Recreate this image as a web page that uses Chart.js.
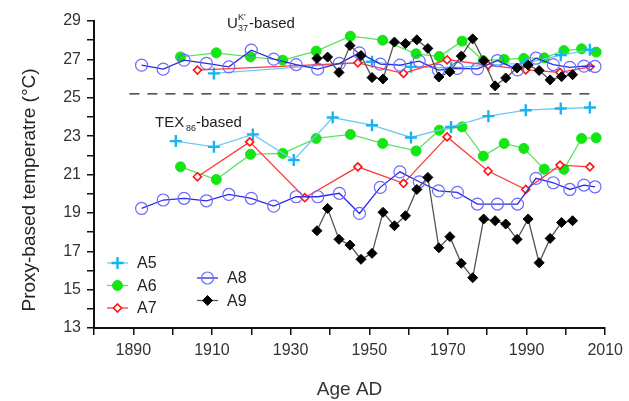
<!DOCTYPE html>
<html>
<head>
<meta charset="utf-8">
<script src="https://cdn.jsdelivr.net/npm/chart.js@4.4.1/dist/chart.umd.min.js"></script>
<style>
  html, body { margin: 0; padding: 0; background: #fff; }
  #wrap { width: 629px; height: 401px; position: relative; }
</style>
</head>
<body>
<div id="wrap"><canvas id="proxyChart" width="629" height="401"></canvas></div>
<script>
// --- data ---
const a5Years = [1900.8, 1910.5, 1920.4, 1930.8, 1940.7, 1950.7, 1960.6, 1970.8, 1980.3, 1989.8, 1998.7, 2006.1];
const a5Tex   = [22.74, 22.44, 23.09, 21.75, 23.97, 23.57, 22.93, 23.48, 24.04, 24.35, 24.44, 24.49];
const a5Uk    = [null, 26.27, null, null, null, 26.88, 26.61, 26.55, 26.70, 26.80, 27.22, 27.50];

const a6Years = [1902.0, 1911.1, 1919.8, 1928.0, 1936.5, 1945.2, 1953.4, 1961.9, 1967.8, 1973.6, 1979.0, 1984.3, 1989.3, 1994.5, 1999.5, 2004.0, 2007.7];
const a6Tex   = [21.40, 20.74, 22.05, 22.10, 22.88, 23.09, 22.62, 22.23, 23.31, 23.48, 21.96, 22.62, 22.36, 21.28, 21.27, 22.88, 22.91];
const a6Uk    = [27.13, 27.34, 27.13, 26.96, 27.43, 28.21, 28.00, 27.29, 27.15, 27.95, 26.93, 27.00, 27.05, 27.08, 27.46, 27.55, 27.38];

const a7Years = [1906.3, 1919.6, 1933.6, 1947.1, 1958.7, 1969.8, 1980.2, 1989.8, 1998.5, 2006.1];
const a7Tex   = [20.88, 22.70, 19.79, 21.40, 20.54, 22.96, 21.18, 20.22, 21.49, 21.40];
const a7Uk    = [26.44, null, null, 26.82, 26.27, 26.98, 26.70, 26.45, 26.32, 26.61];

const a8Years = [1892.1, 1897.6, 1902.9, 1908.6, 1914.3, 1920.0, 1925.7, 1931.4, 1936.9, 1942.4, 1947.5, 1952.8, 1957.8, 1962.7, 1967.6, 1972.4, 1977.5, 1982.6, 1987.7, 1992.4, 1996.8, 2001.0, 2004.6, 2007.4];
const a8Tex   = [19.23, 19.67, 19.76, 19.63, 19.96, 19.76, 19.35, 19.84, 19.84, 20.02, 18.97, 20.33, 21.14, 20.62, 20.15, 20.07, 19.46, 19.46, 19.46, 20.80, 20.57, 20.22, 20.45, 20.36];
const a8Uk    = [26.70, 26.49, 26.96, 26.79, 26.61, 27.48, 27.01, 26.73, 26.49, 26.79, 27.34, 26.75, 26.70, 26.91, 26.44, 26.53, 26.51, 26.94, 26.45, 27.06, 26.73, 26.58, 26.65, 26.63];

const a9Years = [1936.7, 1939.4, 1942.3, 1945.1, 1947.9, 1950.7, 1953.5, 1956.4, 1959.2, 1962.1, 1964.9, 1967.7, 1970.5, 1973.4, 1976.3, 1979.1, 1982.0, 1984.7, 1987.6, 1990.4, 1993.2, 1996.0, 1998.9, 2001.7];
const a9Tex   = [18.07, 19.23, 17.62, 17.32, 16.58, 16.89, 19.03, 18.33, 18.85, 20.22, 20.85, 17.18, 17.76, 16.37, 15.62, 18.68, 18.59, 18.42, 17.62, 18.68, 16.40, 17.67, 18.50, 18.59];
const a9Uk    = [27.05, 27.12, 26.32, 27.72, 27.20, 26.05, 25.98, 27.90, 27.82, 28.02, 27.57, 26.08, 26.35, 27.17, 28.07, 26.93, 25.62, 26.03, 26.55, 26.70, 26.42, 25.93, 26.10, 26.20];

// dashed separator between the two proxies
const dividerYears = [1889, 2008];
const dividerTemp  = [25.2, 25.2];

const xTicks = [1880, 2010];
const yTicks = [13, 29];

// --- styles per site ---
const styles = {
    A5: { line: "#6ccbf3", mark: "#1ab2f0", fill: "#1ab2f0", shape: "cross", r: 6, bw: 2.4 },
    A6: { line: "#5ee05e", mark: "#14e614", fill: "#14e614", shape: "circle", r: 5, bw: 1 },
    A7: { line: "#ff3a3a", mark: "#ff1414", fill: "#ffffff", shape: "rectRot", r: 4, bw: 1.6 },
    A8: { line: "#2a2ae0", mark: "#6a6aff", fill: "rgba(0,0,0,0)", shape: "circle", r: 6, bw: 1.2 },
    A9: { line: "#555555", mark: "#000000", fill: "#000000", shape: "rectRot", r: 5, bw: 1 },
};

function pts(xs, ys) {
    return xs.map((x, i) => ({ x: x, y: ys[i] })).filter((p) => p.y !== null);
}

function series(name, xs, ys, order) {
    const s = styles[name];
    return {
        label: name,
        data: pts(xs, ys),
        borderColor: s.line,
        borderWidth: 1.3,
        pointStyle: s.shape,
        pointRadius: s.r,
        pointBorderColor: s.mark,
        pointBackgroundColor: s.fill,
        pointBorderWidth: s.bw,
        tension: 0,
        order: order,
    };
}

// draws one marker by hand (used for the legend)
function marker(ctx, shape, x, y, r, stroke, fill, bw) {
    ctx.save();
    ctx.lineWidth = bw;
    ctx.strokeStyle = stroke;
    ctx.fillStyle = fill;
    ctx.beginPath();
    if (shape === "circle") {
        ctx.arc(x, y, r, 0, Math.PI * 2);
        ctx.fill();
        ctx.stroke();
    } else if (shape === "rectRot") {
        ctx.moveTo(x, y - r);
        ctx.lineTo(x + r, y);
        ctx.lineTo(x, y + r);
        ctx.lineTo(x - r, y);
        ctx.closePath();
        ctx.fill();
        ctx.stroke();
    } else {
        ctx.moveTo(x - r, y);
        ctx.lineTo(x + r, y);
        ctx.moveTo(x, y - r);
        ctx.lineTo(x, y + r);
        ctx.stroke();
    }
    ctx.restore();
}

const extras = {
    id: "extras",
    afterDraw(chart) {
        const ctx = chart.ctx;
        ctx.save();
        ctx.fillStyle = "#222";
        ctx.textBaseline = "alphabetic";

        // U37K'-based
        ctx.font = "15px 'Liberation Sans', Arial, sans-serif";
        ctx.fillText("U", 227, 28);
        ctx.font = "9px 'Liberation Sans', Arial, sans-serif";
        ctx.fillText("K'", 238, 20);
        ctx.fillText("37", 238, 31);
        ctx.font = "15px 'Liberation Sans', Arial, sans-serif";
        ctx.fillText("-based", 249, 28);

        // TEX86-based
        ctx.fillText("TEX", 155, 127);
        ctx.font = "9px 'Liberation Sans', Arial, sans-serif";
        ctx.fillText("86", 186, 131);
        ctx.font = "15px 'Liberation Sans', Arial, sans-serif";
        ctx.fillText("-based", 196, 127);

        // y title
        ctx.save();
        ctx.translate(30, 190);
        ctx.rotate(-Math.PI / 2);
        ctx.textAlign = "center";
        ctx.textBaseline = "middle";
        ctx.font = "19px 'Liberation Sans', Arial, sans-serif";
        ctx.fillText("Proxy-based temperatre (°C)", 0, 0);
        ctx.restore();

        // legend
        const items = [
            ["A5", 107, 263], ["A6", 107, 285.5], ["A7", 107, 308],
            ["A8", 197, 278], ["A9", 197, 300.5],
        ];
        ctx.font = "16px 'Liberation Sans', Arial, sans-serif";
        ctx.textBaseline = "middle";
        items.forEach(([name, x, y]) => {
            const s = styles[name];
            ctx.strokeStyle = s.line;
            ctx.lineWidth = 1.3;
            ctx.beginPath();
            ctx.moveTo(x, y);
            ctx.lineTo(x + 21, y);
            ctx.stroke();
            marker(ctx, s.shape, x + 10.5, y, s.r, s.mark, s.fill, s.bw);
            ctx.fillStyle = "#222";
            ctx.fillText(name, x + 30, y + 1);
        });
        ctx.restore();
    },
};

const ctx = document.getElementById("proxyChart");

new Chart(ctx, {
    type: "line",
    data: {
        datasets: [
            {
                label: "divider",
                data: pts(dividerYears, dividerTemp),
                borderColor: "#222",
                borderWidth: 1.4,
                borderDash: [10, 8],
                pointRadius: 0,
                order: 10,
            },
            series("A5", a5Years, a5Uk, 5),
            series("A6", a6Years, a6Uk, 6),
            series("A7", a7Years, a7Uk, 4),
            series("A8", a8Years, a8Uk, 3),
            series("A9", a9Years, a9Uk, 1),
            series("A5", a5Years, a5Tex, 5),
            series("A6", a6Years, a6Tex, 6),
            series("A7", a7Years, a7Tex, 4),
            series("A8", a8Years, a8Tex, 3),
            series("A9", a9Years, a9Tex, 1),
        ],
    },
    options: {
        responsive: false,
        animation: false,
        layout: { padding: { left: 0, top: 21, right: 23, bottom: 0 } },
        plugins: {
            legend: { display: false },
            tooltip: { enabled: false },
        },
        scales: {
            x: {
                type: "linear",
                min: xTicks[0],
                max: xTicks[1],
                afterFit: (scale) => { scale.height = 73; },
                afterBuildTicks: (scale) => {
                    const t = [];
                    for (let v = xTicks[0]; v <= xTicks[1]; v += 10) t.push({ value: v });
                    scale.ticks = t;
                },
                border: { color: "#111", width: 2 },
                grid: { drawOnChartArea: false, drawTicks: true, tickLength: 7, color: "#111", lineWidth: 1.5 },
                ticks: {
                    autoSkip: false,
                    maxRotation: 0,
                    padding: 6,
                    color: "#333",
                    font: { size: 16, family: "'Liberation Sans', Arial, sans-serif" },
                    callback: (v) => (v % 20 === 10 ? String(v) : ""),
                },
                title: {
                    display: true,
                    text: "Age AD",
                    color: "#333",
                    padding: { top: 4, bottom: 0 },
                    font: { size: 19, family: "'Liberation Sans', Arial, sans-serif" },
                },
            },
            y: {
                min: yTicks[0],
                max: yTicks[1],
                afterFit: (scale) => { scale.width = 94; },
                border: { color: "#111", width: 2 },
                grid: { drawOnChartArea: false, drawTicks: true, tickLength: 7, color: "#111", lineWidth: 1.5 },
                ticks: {
                    stepSize: 1,
                    autoSkip: false,
                    padding: 6,
                    color: "#333",
                    font: { size: 16, family: "'Liberation Sans', Arial, sans-serif" },
                    callback: (v) => (v % 2 === 1 ? String(v) : ""),
                },
            },
        },
    },
    plugins: [extras],
});
</script>
</body>
</html>
